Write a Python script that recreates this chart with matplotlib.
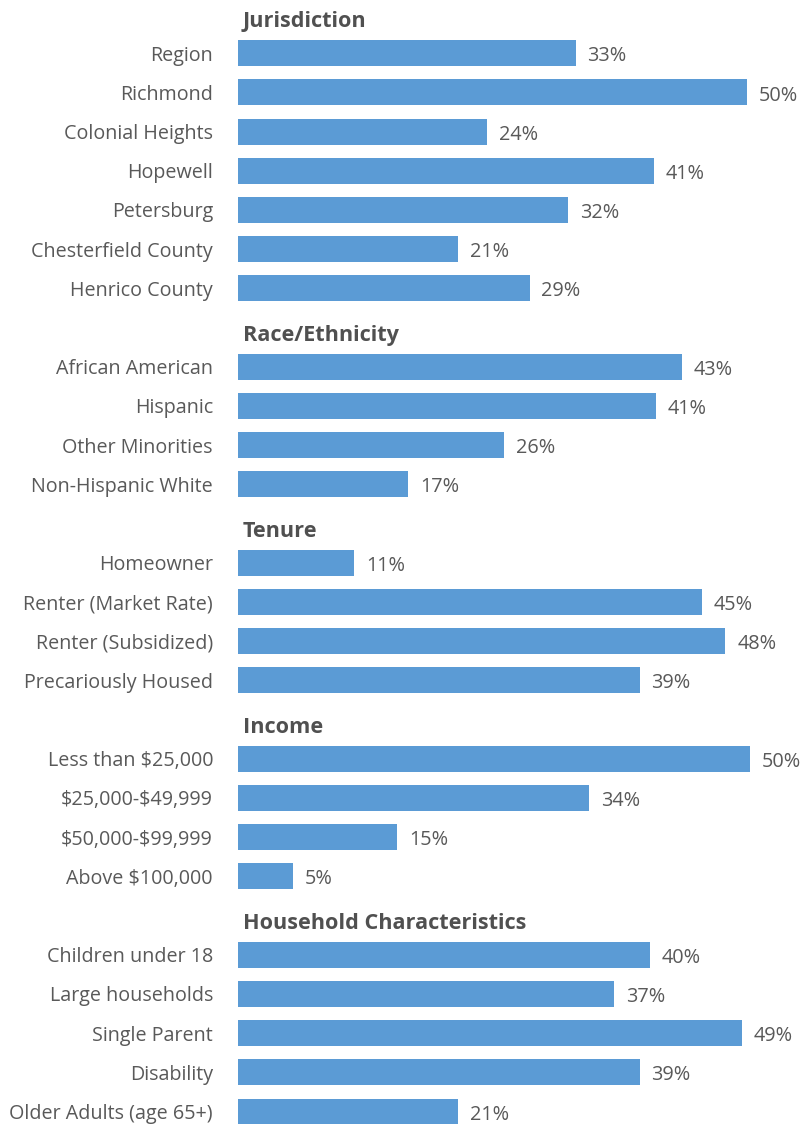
import matplotlib.pyplot as plt

plt.rcParams['font.family'] = ['Open Sans', 'DejaVu Sans']
plt.rcParams['text.parse_math'] = False

# data: one list per section (bar lengths,
# printed labels as shown)
sections = ["Jurisdiction", "Race/Ethnicity", "Tenure", "Income",
            "Household Characteristics"]

jurisdiction_labels = ["Region", "Richmond", "Colonial Heights", "Hopewell",
                       "Petersburg", "Chesterfield County", "Henrico County"]
jurisdiction_values = [33.1, 49.9, 24.4, 40.8, 32.4, 21.6, 28.6]
jurisdiction_text = ["33%", "50%", "24%", "41%", "32%", "21%", "29%"]

race_labels = ["African American", "Hispanic", "Other Minorities",
               "Non-Hispanic White"]
race_values = [43.5, 41.0, 26.1, 16.7]
race_text = ["43%", "41%", "26%", "17%"]

tenure_labels = ["Homeowner", "Renter (Market Rate)", "Renter (Subsidized)",
                 "Precariously Housed"]
tenure_values = [11.4, 45.5, 47.8, 39.4]
tenure_text = ["11%", "45%", "48%", "39%"]

income_labels = ["Less than $25,000", "$25,000-$49,999", "$50,000-$99,999",
                 "Above $100,000"]
income_values = [50.2, 34.4, 15.6, 5.4]
income_text = ["50%", "34%", "15%", "5%"]

household_labels = ["Children under 18", "Large households", "Single Parent",
                    "Disability", "Older Adults (age 65+)"]
household_values = [40.4, 36.9, 49.4, 39.4, 21.6]
household_text = ["40%", "37%", "49%", "39%", "21%"]

groups = [(jurisdiction_labels, jurisdiction_values, jurisdiction_text),
          (race_labels, race_values, race_text),
          (tenure_labels, tenure_values, tenure_text),
          (income_labels, income_values, income_text),
          (household_labels, household_values, household_text)]

bar_color = "#5B9BD5"
text_color = "#595959"
header_color = "#505050"

fig = plt.figure(figsize=(8.08, 11.24), dpi=100)
ax = fig.add_axes([238 / 808, 0, 1 - 238 / 808, 1])

# lay out rows: each section gets a header slot followed by its bars
pos = 0
ypos, ylabels, vals, texts = [], [], [], []
for title, (labels, values, pct) in zip(sections, groups):
    ax.text(0.45, pos + 0.2, title, fontsize=15.6, fontweight="bold",
            color=header_color, va="center", ha="left")
    pos += 1
    for lab, v, t in zip(labels, values, pct):
        ypos.append(pos)
        ylabels.append(lab)
        vals.append(v)
        texts.append(t)
        pos += 1

ax.barh(ypos, vals, height=0.66, color=bar_color)
for y, v, t in zip(ypos, vals, texts):
    ax.annotate(t, (v, y + 0.08), xytext=(8.5, 0), textcoords="offset points",
                fontsize=14.3, color=text_color, va="center", ha="left")

ax.set_yticks(ypos)
ax.set_yticklabels(ylabels, fontsize=14.2, color=text_color)
ax.tick_params(axis="y", length=0, pad=18)
ax.set_xticks([])
ax.set_xlim(0, 55.9)
ax.set_ylim(28.32, -0.357)
for spine in ax.spines.values():
    spine.set_visible(False)

fig.savefig("out.png", dpi=100)
